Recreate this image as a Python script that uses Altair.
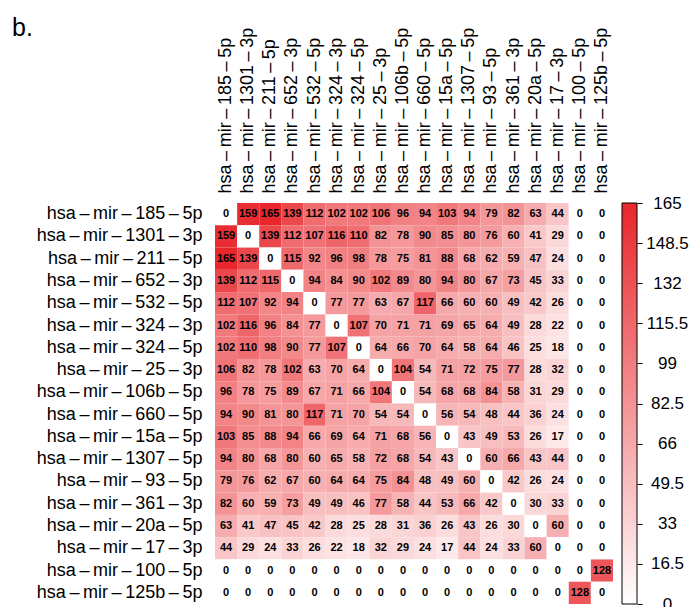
import altair as alt
import pandas as pd

# miRNA names, in display order (rows top to bottom, columns left to right)
mirnas = [
    "hsa-mir-185-5p", "hsa-mir-1301-3p", "hsa-mir-211-5p", "hsa-mir-652-3p",
    "hsa-mir-532-5p", "hsa-mir-324-3p", "hsa-mir-324-5p", "hsa-mir-25-3p",
    "hsa-mir-106b-5p", "hsa-mir-660-5p", "hsa-mir-15a-5p", "hsa-mir-1307-5p",
    "hsa-mir-93-5p", "hsa-mir-361-3p", "hsa-mir-20a-5p", "hsa-mir-17-3p",
    "hsa-mir-100-5p", "hsa-mir-125b-5p",
]

# pairwise co-occurrence counts, one list per row
mir185_5p = [0, 159, 165, 139, 112, 102, 102, 106, 96, 94, 103, 94, 79, 82, 63, 44, 0, 0]
mir1301_3p = [159, 0, 139, 112, 107, 116, 110, 82, 78, 90, 85, 80, 76, 60, 41, 29, 0, 0]
mir211_5p = [165, 139, 0, 115, 92, 96, 98, 78, 75, 81, 88, 68, 62, 59, 47, 24, 0, 0]
mir652_3p = [139, 112, 115, 0, 94, 84, 90, 102, 89, 80, 94, 80, 67, 73, 45, 33, 0, 0]
mir532_5p = [112, 107, 92, 94, 0, 77, 77, 63, 67, 117, 66, 60, 60, 49, 42, 26, 0, 0]
mir324_3p = [102, 116, 96, 84, 77, 0, 107, 70, 71, 71, 69, 65, 64, 49, 28, 22, 0, 0]
mir324_5p = [102, 110, 98, 90, 77, 107, 0, 64, 66, 70, 64, 58, 64, 46, 25, 18, 0, 0]
mir25_3p = [106, 82, 78, 102, 63, 70, 64, 0, 104, 54, 71, 72, 75, 77, 28, 32, 0, 0]
mir106b_5p = [96, 78, 75, 89, 67, 71, 66, 104, 0, 54, 68, 68, 84, 58, 31, 29, 0, 0]
mir660_5p = [94, 90, 81, 80, 117, 71, 70, 54, 54, 0, 56, 54, 48, 44, 36, 24, 0, 0]
mir15a_5p = [103, 85, 88, 94, 66, 69, 64, 71, 68, 56, 0, 43, 49, 53, 26, 17, 0, 0]
mir1307_5p = [94, 80, 68, 80, 60, 65, 58, 72, 68, 54, 43, 0, 60, 66, 43, 44, 0, 0]
mir93_5p = [79, 76, 62, 67, 60, 64, 64, 75, 84, 48, 49, 60, 0, 42, 26, 24, 0, 0]
mir361_3p = [82, 60, 59, 73, 49, 49, 46, 77, 58, 44, 53, 66, 42, 0, 30, 33, 0, 0]
mir20a_5p = [63, 41, 47, 45, 42, 28, 25, 28, 31, 36, 26, 43, 26, 30, 0, 60, 0, 0]
mir17_3p = [44, 29, 24, 33, 26, 22, 18, 32, 29, 24, 17, 44, 24, 33, 60, 0, 0, 0]
mir100_5p = [0, 0, 0, 0, 0, 0, 0, 0, 0, 0, 0, 0, 0, 0, 0, 0, 0, 128]
mir125b_5p = [0, 0, 0, 0, 0, 0, 0, 0, 0, 0, 0, 0, 0, 0, 0, 0, 128, 0]

rows = [
    mir185_5p, mir1301_3p, mir211_5p, mir652_3p, mir532_5p, mir324_3p,
    mir324_5p, mir25_3p, mir106b_5p, mir660_5p, mir15a_5p, mir1307_5p,
    mir93_5p, mir361_3p, mir20a_5p, mir17_3p, mir100_5p, mir125b_5p,
]

# colour bar ticks
bar_ticks = [0, 16.5, 33, 49.5, 66, 82.5, 99, 115.5, 132, 148.5, 165]
VMAX = 165
RED = "#e8262b"


def shown(name):
    # typeset hyphens as long, lightly spaced dashes
    return name.replace("-", "\u2009\u2013\u2009")


labels = [shown(m) for m in mirnas]

records = []
for i, a in enumerate(labels):
    for j, b in enumerate(labels):
        records.append({"row": a, "col": b, "n": rows[i][j]})
df = pd.DataFrame(records)

W, H = 398, 401
FONT = "Liberation Sans"

base = alt.Chart(df).encode(
    x=alt.X(
        "col:N", sort=labels, title=None,
        axis=alt.Axis(
            orient="top", labelAngle=270, labelAlign="left", labelBaseline="middle",
            ticks=False, domain=False, labelPadding=10, labelFontSize=18,
            labelFont=FONT, labelColor="black", labelLimit=0,
        ),
    ),
    y=alt.Y(
        "row:N", sort=labels, title=None,
        axis=alt.Axis(
            ticks=False, domain=False, labelPadding=13, labelFontSize=18,
            labelFont=FONT, labelColor="black", labelLimit=0,
        ),
    ),
)

cells = base.mark_rect().encode(
    color=alt.Color(
        "n:Q",
        scale=alt.Scale(domain=[0, VMAX], range=["#ffffff", RED], interpolate="rgb"),
        legend=None,
    )
)
nums = base.mark_text(font=FONT, fontSize=11, fontWeight="bold", color="black").encode(
    text="n:Q"
)
heat = alt.layer(cells, nums)

bar_df = pd.DataFrame({"lo": [0], "hi": [VMAX]})
colorbar = alt.Chart(bar_df).mark_rect(
    fill=alt.Gradient(
        gradient="linear",
        stops=[
            alt.GradientStop(color="#ffffff", offset=0),
            alt.GradientStop(color=RED, offset=1),
        ],
        x1=0, x2=0, y1=1, y2=0,
    ),
    stroke="black",
    strokeWidth=1,
).encode(
    x=alt.value(W + 9),
    x2=alt.value(W + 24),
    y=alt.Y(
        "lo:Q", title=None,
        scale=alt.Scale(domain=[0, VMAX], nice=False, zero=True),
        axis=alt.Axis(
            orient="right", offset=24, values=bar_ticks, format=".4~g",
            domain=False, tickColor="black", tickSize=5, tickWidth=1,
            labelAlign="center", labelPadding=25, labelFontSize=17,
            labelFont=FONT, labelColor="black", grid=False, labelOverlap=False,
        ),
    ),
    y2="hi:Q",
)

chart = (
    alt.layer(heat, colorbar)
    .resolve_scale(y="independent")
    .properties(
        width=W,
        height=H,
        autosize="none",
        padding={"left": 215, "top": 203, "right": 77, "bottom": 3},
        title=alt.TitleParams(
            "b.", anchor="start", frame="group", dx=-203, dy=18,
            fontSize=25, font=FONT, fontWeight="normal", color="black",
        ),
    )
    .configure_view(strokeWidth=0)
)

chart.save("out.html", embed_options={"renderer": "svg", "actions": False})
